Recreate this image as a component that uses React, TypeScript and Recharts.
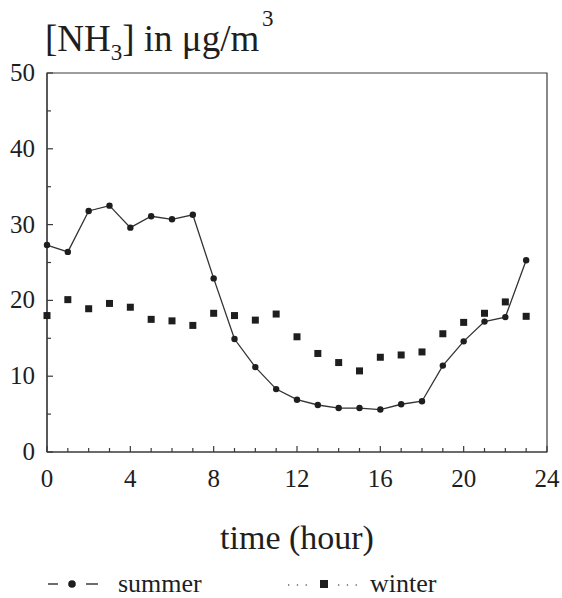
import { LineChart, Line, XAxis, YAxis, ReferenceArea, Legend } from "recharts";

// hourly NH3 concentration
const HOURS = [0, 1, 2, 3, 4, 5, 6, 7, 8, 9, 10, 11, 12, 13, 14, 15, 16, 17, 18, 19, 20, 21, 22, 23];
const SUMMER = [27.3, 26.4, 31.8, 32.5, 29.6, 31.1, 30.7, 31.3, 22.9, 14.9, 11.2, 8.3, 6.9, 6.2, 5.8, 5.8, 5.6, 6.3, 6.7, 11.4, 14.6, 17.2, 17.8, 25.3];
const WINTER = [18.0, 20.1, 18.9, 19.6, 19.1, 17.5, 17.3, 16.7, 18.3, 18.0, 17.4, 18.2, 15.2, 13.0, 11.8, 10.7, 12.5, 12.8, 13.2, 15.6, 17.1, 18.3, 19.8, 17.9];

const X_TICKS = [0, 1, 2, 3, 4, 5, 6, 7, 8, 9, 10, 11, 12, 13, 14, 15, 16, 17, 18, 19, 20, 21, 22, 23, 24];
const X_LABELS = [0, 4, 8, 12, 16, 20, 24];
const Y_TICKS = [0, 5, 10, 15, 20, 25, 30, 35, 40, 45, 50];
const Y_LABELS = [0, 10, 20, 30, 40, 50];

const INK = "#1e1e1e";
const AXIS = "#3a3a3a";
const FONT = "Liberation Serif";

const data = HOURS.map((h, i) => ({ hour: h, summer: SUMMER[i], winter: WINTER[i] }));

function XTick({ x, y, payload }: any) {
  const major = X_LABELS.includes(payload.value);
  return (
    <g>
      <line x1={x} x2={x} y1={y} y2={y - (major ? 6 : 4)} stroke={AXIS} strokeWidth={1.2} />
      {major && (
        <text x={x} y={y + 35} textAnchor="middle" fontSize={25} fill={INK} fontFamily={FONT}>
          {payload.value}
        </text>
      )}
    </g>
  );
}

function YTick({ x, y, payload }: any) {
  const major = Y_LABELS.includes(payload.value);
  return (
    <g>
      <line x1={x} x2={x + (major ? 6 : 4)} y1={y} y2={y} stroke={AXIS} strokeWidth={1.2} />
      {major && (
        <text x={x - 12} y={y + 8} textAnchor="end" fontSize={25} fill={INK} fontFamily={FONT}>
          {payload.value}
        </text>
      )}
    </g>
  );
}

function SquareDot({ cx, cy, index }: any) {
  return <rect key={index} x={cx - 3.5} y={cy - 3.5} width={7} height={7} fill={INK} />;
}

function RoundDot({ cx, cy, index }: any) {
  return <circle key={index} cx={cx} cy={cy} r={3.2} fill={INK} />;
}

// legend drawn by hand: line sample + marker + name
function LegendBox() {
  return (
    <svg width={562} height={38} style={{ display: "block" }}>
      <line x1={48} x2={58} y1={24} y2={24} stroke={INK} strokeWidth={1.3} />
      <circle cx={72} cy={24} r={3.8} fill={INK} />
      <line x1={86} x2={98} y1={24} y2={24} stroke={INK} strokeWidth={1.3} />
      <text x={118} y={32} fontSize={26} fill={INK} fontFamily={FONT}>summer</text>
      <line x1={288} x2={308} y1={25} y2={25} stroke="#666" strokeWidth={1.3} strokeDasharray="1.3 7.5" />
      <rect x={320} y={20} width={8} height={8} fill={INK} />
      <line x1={338} x2={358} y1={25} y2={25} stroke="#666" strokeWidth={1.3} strokeDasharray="1.3 7.5" />
      <text x={370} y={32} fontSize={26} fill={INK} fontFamily={FONT}>winter</text>
    </svg>
  );
}

export default function App() {
  return (
    <div
      style={{
        position: "absolute",
        left: 0,
        top: 0,
        width: 562,
        height: 598,
        background: "#fff",
        fontFamily: FONT,
      }}
    >
      <LineChart
        width={562}
        height={598}
        data={data}
        margin={{ top: 73, right: 15, bottom: 8, left: 7 }}
      >
        <ReferenceArea x1={0} x2={24} y1={0} y2={50} fill="none" stroke={AXIS} strokeWidth={1.2} ifOverflow="visible" />
        <XAxis
          dataKey="hour"
          type="number"
          domain={[0, 24]}
          ticks={X_TICKS}
          interval={0}
          height={100}
          tickSize={0}
          tickMargin={0}
          tickLine={false}
          axisLine={{ stroke: AXIS, strokeWidth: 1.2 }}
          tick={<XTick />}
          label={{ value: "time (hour)", position: "insideBottom", offset: 3, fontSize: 34, fill: INK, fontFamily: FONT }}
        />
        <YAxis
          type="number"
          domain={[0, 50]}
          ticks={Y_TICKS}
          interval={0}
          width={40}
          tickSize={0}
          tickMargin={0}
          tickLine={false}
          axisLine={{ stroke: AXIS, strokeWidth: 1.2 }}
          tick={<YTick />}
        />
        <Line
          dataKey="summer"
          stroke="#333"
          strokeWidth={1.3}
          dot={<RoundDot />}
          activeDot={false}
          isAnimationActive={false}
        />
        <Line
          dataKey="winter"
          stroke="none"
          dot={<SquareDot />}
          activeDot={false}
          isAnimationActive={false}
        />
        <Legend
          content={<LegendBox />}
          wrapperStyle={{ position: "absolute", left: 0, top: 560, width: 562, height: 38 }}
        />
      </LineChart>
      <svg
        width={562}
        height={70}
        style={{ position: "absolute", left: 0, top: 0, pointerEvents: "none" }}
      >
        <text x={45} y={51} fontSize={37} fill={INK} fontFamily={FONT}>
          [NH
          <tspan fontSize={23} dy={9}>3</tspan>
          <tspan dy={-9}>] in μg/m</tspan>
        </text>
        <text x={262} y={26} fontSize={23} fill={INK} fontFamily={FONT}>3</text>
      </svg>
    </div>
  );
}
